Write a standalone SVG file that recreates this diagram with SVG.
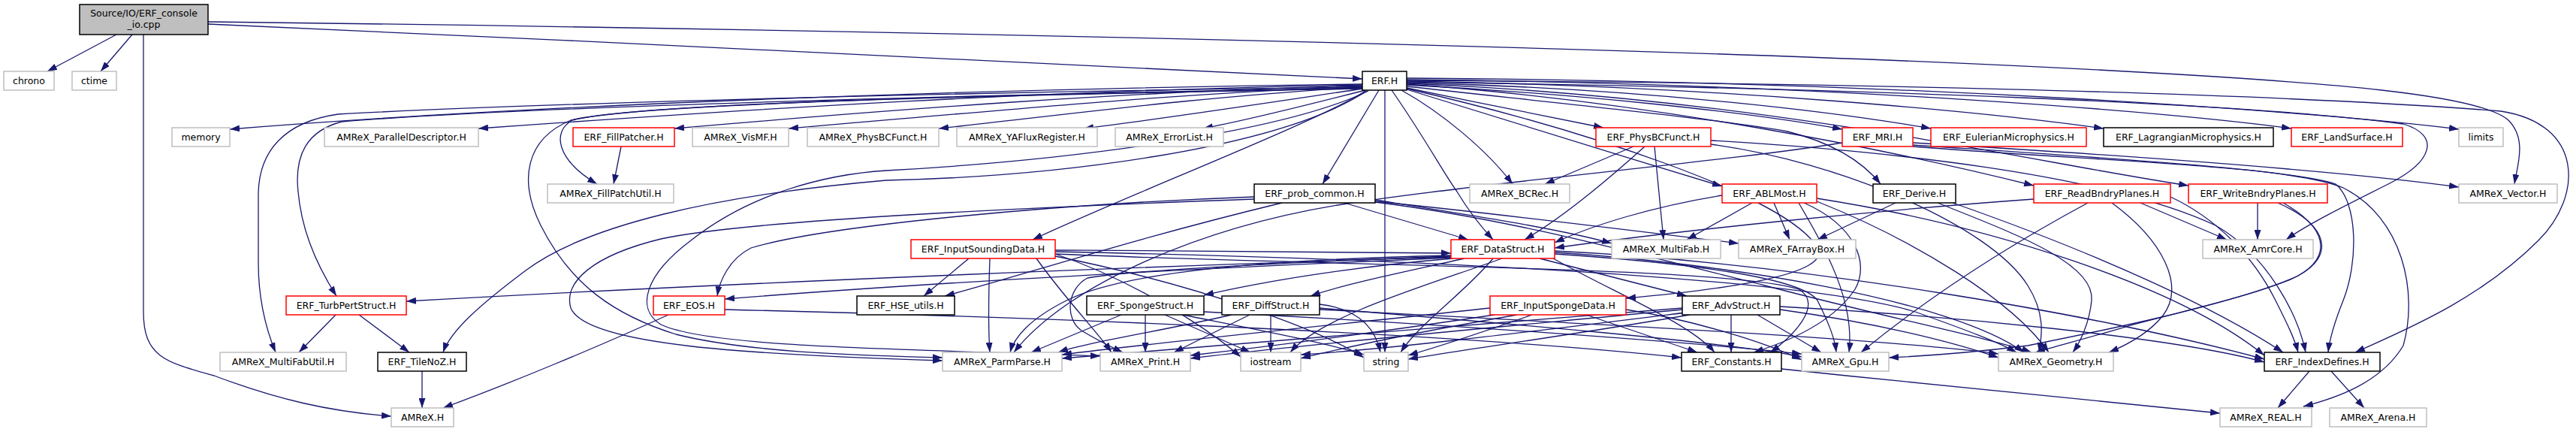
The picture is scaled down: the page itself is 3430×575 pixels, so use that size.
<svg xmlns="http://www.w3.org/2000/svg" width="3430" height="575" viewBox="0 0 3430 575">
<defs>
<marker id="ah" markerUnits="userSpaceOnUse" markerWidth="13" markerHeight="9" refX="13" refY="4.5" orient="auto"><path d="M0,0 L13,4.5 L0,9 z" fill="#191970"/></marker>
<style>
.node rect{fill:#fff;stroke-width:1.5}
.g rect{stroke:#bfbfbf}
.r rect{stroke:#ff0000}
.k rect{stroke:#000}
.s rect{fill:#bfbfbf;stroke:#000}
text{font-family:"DejaVu Sans","Liberation Sans",sans-serif;font-size:12.5px;text-anchor:middle;fill:#000}
#edges path{fill:none;stroke:#191970;stroke-width:1.3;marker-end:url(#ah)}
</style>
</defs>
<rect width="3430" height="575" fill="#fff"/>
<g id="edges">
<path d="M155,46 L63,95"/>
<path d="M176,46 L134,95"/>
<path d="M277,32 C800,55 1400,85 1814,105"/>
<path d="M191,46 L191,415 C191,475 220,482 285,500 C370,532 440,548 521,554"/>
<path d="M277,29 C1200,40 2300,65 2830,95 C3100,110 3300,125 3340,160 C3365,185 3352,220 3348,245"/>
<path d="M1814,112 C1300,118 700,140 306,172"/>
<path d="M1814,113 C1400,120 1000,145 637,171"/>
<path d="M1814,114 C1500,122 1200,145 898,171"/>
<path d="M1814,115 C1550,125 1300,150 1050,171"/>
<path d="M1814,116 C1600,128 1400,155 1250,171"/>
<path d="M1815,118 C1700,135 1550,158 1443,171"/>
<path d="M1818,120 C1740,140 1660,160 1602,171"/>
<path d="M1873,117 C1960,135 2060,155 2135,170"/>
<path d="M1873,113 C2100,125 2320,148 2453,172"/>
<path d="M1873,110 C2200,118 2450,150 2571,171"/>
<path d="M1873,108 C2300,115 2650,150 2801,171"/>
<path d="M1873,106 C2450,112 2900,150 3051,171"/>
<path d="M1873,104 C2550,108 3100,150 3274,172"/>
<path d="M1814,118 C1300,126 850,138 762,160 C735,175 740,212 795,245"/>
<path d="M1836,120 L1761,245"/>
<path d="M1866,120 C1920,150 1980,200 2014,245"/>
<path d="M1873,119 C1990,155 2150,205 2293,248"/>
<path d="M1873,115 C2100,140 2300,160 2380,175 C2440,190 2480,215 2504,245"/>
<path d="M1873,112 C2200,135 2520,200 2708,247"/>
<path d="M1873,111 C2350,130 2700,215 2914,247"/>
<path d="M1873,109 C2500,118 3000,138 3200,165 C3250,180 3240,215 3180,245 C3120,275 3070,300 3044,319"/>
<path d="M1873,107 C2400,110 3000,122 3330,148 C3440,165 3440,260 3380,320 C3300,400 3200,440 3136,469"/>
<path d="M1818,121 C1760,160 1500,260 1375,319"/>
<path d="M1853,120 C1895,180 1925,235 1940,255 C1958,285 1975,305 1988,319"/>
<path d="M1814,116 C1300,122 700,138 450,152 C380,162 344,200 344,260 L344,350 C344,400 355,440 367,469"/>
<path d="M1814,117 C1300,126 700,142 455,162 C405,175 396,210 396,240 C398,300 420,350 448,394"/>
<path d="M1844,120 L1844,469"/>
<path d="M1814,118 C1300,127 850,138 760,160 C700,185 690,240 720,300 C760,380 820,420 900,445 C1000,470 1150,473 1255,476"/>
<path d="M1822,121 C1700,180 1400,215 1180,227 C1100,232 1000,257 920,320 C860,365 845,410 880,432 C950,465 1250,465 1465,474"/>
<path d="M1820,121 C1700,200 1400,235 1180,240 C950,260 780,300 700,360 C640,405 600,440 590,469"/>
<path d="M1873,118 C2100,170 2380,260 2420,330 C2440,365 2300,385 2165,397"/>
<path d="M827,195 L817,245"/>
<path d="M2175,195 L2057,245"/>
<path d="M2190,195 C2140,240 2080,290 2030,319"/>
<path d="M2203,195 L2215,319"/>
<path d="M2278,187 C2500,200 2800,230 2950,300 C3020,340 3060,420 3070,469"/>
<path d="M2278,192 C2450,215 2650,300 2700,380 C2725,420 2718,450 2715,469"/>
<path d="M2453,190 C2300,215 2000,240 1800,270 C1600,300 1420,380 1350,469"/>
<path d="M2547,190 C2800,205 3100,225 3274,249"/>
<path d="M2547,193 C2800,210 3050,225 3110,245 C3140,270 3140,350 3120,400 C3108,430 3102,450 3100,469"/>
<path d="M2547,195 C2800,215 3050,220 3120,250 C3200,290 3220,390 3200,460 C3170,510 3110,530 3067,541"/>
<path d="M1790,270 L1955,319"/>
<path d="M1831,266 C1950,285 2080,305 2146,324"/>
<path d="M1831,268 C2000,285 2200,310 2315,324"/>
<path d="M1707,270 C1500,320 1350,370 1258,394"/>
<path d="M1670,262 C1400,272 1100,300 1000,330 C970,345 958,375 955,394"/>
<path d="M1670,265 C1400,275 1000,292 880,318 C790,340 750,375 760,410 C780,460 1000,472 1255,480"/>
<path d="M1831,269 C2000,290 2150,330 2350,380 C2500,420 2650,450 2705,469"/>
<path d="M2333,270 L2246,319"/>
<path d="M2362,270 L2383,319"/>
<path d="M2293,260 C2200,275 2120,300 2070,323"/>
<path d="M2419,268 C2550,320 2680,400 2728,469"/>
<path d="M2419,264 C2650,300 2900,380 3015,473"/>
<path d="M2402,270 C2470,300 2490,350 2470,385 C2440,430 2380,455 2335,469"/>
<path d="M2395,270 C2430,330 2470,400 2462,469"/>
<path d="M2524,270 L2420,319"/>
<path d="M2580,270 C2680,310 2790,350 2785,400 C2782,430 2770,455 2760,469"/>
<path d="M2600,270 C2800,340 2950,410 3040,469"/>
<path d="M2708,265 C2500,280 2250,305 2070,330"/>
<path d="M2780,270 C2650,340 2550,410 2478,469"/>
<path d="M2812,270 C2880,320 2910,380 2880,420 C2860,445 2830,460 2808,469"/>
<path d="M2850,270 L2965,319"/>
<path d="M2890,262 C2950,290 3000,340 3030,400 C3045,430 3055,450 3060,469"/>
<path d="M3006,270 L3006,319"/>
<path d="M3033,270 C3100,300 3110,340 3060,367 C3000,395 2900,415 2830,435 C2780,450 2740,460 2710,469"/>
<path d="M3040,270 C3110,310 3100,350 3050,372 C2950,410 2800,440 2700,460 C2620,470 2560,474 2515,476"/>
<path d="M1290,344 L1230,394"/>
<path d="M1405,333 C1600,333 1800,335 1932,337"/>
<path d="M1318,344 C1316,400 1316,440 1318,469"/>
<path d="M1380,344 C1420,400 1460,440 1480,469"/>
<path d="M1405,338 C1500,370 1600,430 1652,475"/>
<path d="M1405,341 C1600,380 1760,440 1816,476"/>
<path d="M1405,338 C1800,355 2300,355 2395,385 C2430,405 2385,450 2357,469"/>
<path d="M1405,335 C1900,345 2400,370 2550,415 C2620,440 2660,455 2685,469"/>
<path d="M1932,342 C1600,352 1000,375 541,401"/>
<path d="M1932,343 C1650,355 1250,375 965,398"/>
<path d="M1988,344 C1950,390 1890,430 1865,469"/>
<path d="M2050,344 L2246,394"/>
<path d="M1935,344 C1800,355 1680,375 1603,393"/>
<path d="M1950,344 C1880,360 1790,378 1745,394"/>
<path d="M1932,340 C1700,345 1500,360 1420,400 C1370,425 1350,450 1345,469"/>
<path d="M1932,341 C1700,350 1500,360 1448,370 C1420,385 1418,425 1440,440 C1460,452 1480,462 1495,469"/>
<path d="M2000,344 C1900,380 1760,420 1718,469"/>
<path d="M2068,344 C2150,390 2250,430 2283,469"/>
<path d="M2070,338 C2250,350 2400,370 2420,400 C2435,430 2443,450 2445,469"/>
<path d="M2070,336 C2300,350 2600,400 2695,469"/>
<path d="M2070,334 C2400,350 2800,420 3015,478"/>
<path d="M447,419 L398,469"/>
<path d="M478,419 L545,469"/>
<path d="M562,494 L562,543"/>
<path d="M890,419 C800,460 680,510 590,543"/>
<path d="M965,412 C1300,420 1900,440 2239,476"/>
<path d="M1493,419 L1373,469"/>
<path d="M1525,419 L1525,469"/>
<path d="M1551,419 L1665,469"/>
<path d="M1575,419 C1680,440 1760,455 1816,472"/>
<path d="M1603,415 C1900,430 2250,455 2399,471"/>
<path d="M1640,419 C1550,440 1450,455 1409,469"/>
<path d="M1664,419 L1563,469"/>
<path d="M1692,419 L1692,469"/>
<path d="M1757,405 C1800,410 1830,430 1838,469"/>
<path d="M1757,410 C2000,430 2300,455 2399,475"/>
<path d="M1757,412 C2100,430 2500,450 2661,471"/>
<path d="M1984,410 C1800,430 1550,455 1414,472"/>
<path d="M1990,419 C1850,440 1700,460 1585,473"/>
<path d="M2020,419 C1900,440 1800,460 1732,477"/>
<path d="M2040,419 C1980,440 1920,460 1875,473"/>
<path d="M2112,419 L2260,469"/>
<path d="M2165,412 C2250,425 2350,455 2399,479"/>
<path d="M2240,410 C2000,430 1600,460 1414,477"/>
<path d="M2240,412 C2000,435 1700,462 1585,477"/>
<path d="M2245,416 C2050,440 1850,465 1732,472"/>
<path d="M2250,419 C2100,445 1950,465 1875,478"/>
<path d="M2305,419 L2305,469"/>
<path d="M2340,419 L2425,469"/>
<path d="M2370,412 C2500,430 2600,455 2661,476"/>
<path d="M2370,408 C2600,420 2900,450 3015,482"/>
<path d="M2372,491 C2600,515 2850,540 2956,550"/>
<path d="M3075,494 L3033,543"/>
<path d="M3104,494 L3148,543"/>
</g>
<g id="n_src" class="node s"><rect x="106" y="6" width="171" height="40"/><text x="191.5" y="22">Source/IO/ERF_console</text><text x="191.5" y="37">_io.cpp</text></g>
<g id="n_chrono" class="node g"><rect x="5" y="95" width="67" height="25"/><text x="38.5" y="112">chrono</text></g>
<g id="n_ctime" class="node g"><rect x="96" y="95" width="59" height="25"/><text x="125.5" y="112">ctime</text></g>
<g id="n_erf" class="node k"><rect x="1814" y="95" width="59" height="25"/><text x="1843.5" y="112">ERF.H</text></g>
<g id="n_memory" class="node g"><rect x="229" y="170" width="77" height="25"/><text x="267.5" y="187">memory</text></g>
<g id="n_pardesc" class="node g"><rect x="432" y="170" width="205" height="25"/><text x="534.5" y="187">AMReX_ParallelDescriptor.H</text></g>
<g id="n_fillpatcher" class="node r"><rect x="763" y="170" width="135" height="25"/><text x="830.5" y="187">ERF_FillPatcher.H</text></g>
<g id="n_vismf" class="node g"><rect x="922" y="170" width="128" height="25"/><text x="986" y="187">AMReX_VisMF.H</text></g>
<g id="n_amrexphysbc" class="node g"><rect x="1075" y="170" width="175" height="25"/><text x="1162.5" y="187">AMReX_PhysBCFunct.H</text></g>
<g id="n_yaflux" class="node g"><rect x="1274" y="170" width="187" height="25"/><text x="1367.5" y="187">AMReX_YAFluxRegister.H</text></g>
<g id="n_errorlist" class="node g"><rect x="1485" y="170" width="144" height="25"/><text x="1557" y="187">AMReX_ErrorList.H</text></g>
<g id="n_erfphysbc" class="node r"><rect x="2125" y="170" width="153" height="25"/><text x="2201.5" y="187">ERF_PhysBCFunct.H</text></g>
<g id="n_mri" class="node r"><rect x="2453" y="170" width="94" height="25"/><text x="2500" y="187">ERF_MRI.H</text></g>
<g id="n_euler" class="node r"><rect x="2571" y="170" width="207" height="25"/><text x="2674.5" y="187">ERF_EulerianMicrophysics.H</text></g>
<g id="n_lagr" class="node k"><rect x="2801" y="170" width="226" height="25"/><text x="2914" y="187">ERF_LagrangianMicrophysics.H</text></g>
<g id="n_land" class="node r"><rect x="3051" y="170" width="148" height="25"/><text x="3125" y="187">ERF_LandSurface.H</text></g>
<g id="n_limits" class="node g"><rect x="3274" y="170" width="59" height="25"/><text x="3303.5" y="187">limits</text></g>
<g id="n_fpu" class="node g"><rect x="729" y="245" width="168" height="25"/><text x="813" y="262">AMReX_FillPatchUtil.H</text></g>
<g id="n_probc" class="node k"><rect x="1670" y="245" width="161" height="25"/><text x="1750.5" y="262">ERF_prob_common.H</text></g>
<g id="n_bcrec" class="node g"><rect x="1957" y="245" width="133" height="25"/><text x="2023.5" y="262">AMReX_BCRec.H</text></g>
<g id="n_abl" class="node r"><rect x="2293" y="245" width="126" height="25"/><text x="2356" y="262">ERF_ABLMost.H</text></g>
<g id="n_derive" class="node k"><rect x="2494" y="245" width="110" height="25"/><text x="2549" y="262">ERF_Derive.H</text></g>
<g id="n_readbp" class="node r"><rect x="2708" y="245" width="182" height="25"/><text x="2799" y="262">ERF_ReadBndryPlanes.H</text></g>
<g id="n_writebp" class="node r"><rect x="2914" y="245" width="185" height="25"/><text x="3006.5" y="262">ERF_WriteBndryPlanes.H</text></g>
<g id="n_vector" class="node g"><rect x="3274" y="245" width="131" height="25"/><text x="3339.5" y="262">AMReX_Vector.H</text></g>
<g id="n_isd" class="node r"><rect x="1213" y="319" width="192" height="25"/><text x="1309" y="336">ERF_InputSoundingData.H</text></g>
<g id="n_ds" class="node r"><rect x="1932" y="319" width="138" height="25"/><text x="2001" y="336">ERF_DataStruct.H</text></g>
<g id="n_mf" class="node g"><rect x="2146" y="319" width="145" height="25"/><text x="2218.5" y="336">AMReX_MultiFab.H</text></g>
<g id="n_fab" class="node g"><rect x="2315" y="319" width="156" height="25"/><text x="2393" y="336">AMReX_FArrayBox.H</text></g>
<g id="n_amrcore" class="node g"><rect x="2933" y="319" width="147" height="25"/><text x="3006.5" y="336">AMReX_AmrCore.H</text></g>
<g id="n_tps" class="node r"><rect x="381" y="394" width="160" height="25"/><text x="461" y="411">ERF_TurbPertStruct.H</text></g>
<g id="n_eos" class="node r"><rect x="870" y="394" width="95" height="25"/><text x="917.5" y="411">ERF_EOS.H</text></g>
<g id="n_hse" class="node k"><rect x="1141" y="394" width="130" height="25"/><text x="1206" y="411">ERF_HSE_utils.H</text></g>
<g id="n_sponge" class="node k"><rect x="1447" y="394" width="156" height="25"/><text x="1525" y="411">ERF_SpongeStruct.H</text></g>
<g id="n_diff" class="node k"><rect x="1627" y="394" width="130" height="25"/><text x="1692" y="411">ERF_DiffStruct.H</text></g>
<g id="n_isp" class="node r"><rect x="1984" y="394" width="181" height="25"/><text x="2074.5" y="411">ERF_InputSpongeData.H</text></g>
<g id="n_adv" class="node k"><rect x="2240" y="394" width="130" height="25"/><text x="2305" y="411">ERF_AdvStruct.H</text></g>
<g id="n_mfu" class="node g"><rect x="293" y="469" width="168" height="25"/><text x="377" y="486">AMReX_MultiFabUtil.H</text></g>
<g id="n_tilenoz" class="node k"><rect x="503" y="469" width="118" height="25"/><text x="562" y="486">ERF_TileNoZ.H</text></g>
<g id="n_pp" class="node g"><rect x="1255" y="469" width="159" height="25"/><text x="1334.5" y="486">AMReX_ParmParse.H</text></g>
<g id="n_print" class="node g"><rect x="1465" y="469" width="120" height="25"/><text x="1525" y="486">AMReX_Print.H</text></g>
<g id="n_iostream" class="node g"><rect x="1652" y="469" width="80" height="25"/><text x="1692" y="486">iostream</text></g>
<g id="n_string" class="node g"><rect x="1816" y="469" width="59" height="25"/><text x="1845.5" y="486">string</text></g>
<g id="n_const" class="node k"><rect x="2239" y="469" width="133" height="25"/><text x="2305.5" y="486">ERF_Constants.H</text></g>
<g id="n_gpu" class="node g"><rect x="2399" y="469" width="116" height="25"/><text x="2457" y="486">AMReX_Gpu.H</text></g>
<g id="n_geom" class="node g"><rect x="2661" y="469" width="153" height="25"/><text x="2737.5" y="486">AMReX_Geometry.H</text></g>
<g id="n_idx" class="node k"><rect x="3015" y="469" width="154" height="25"/><text x="3092" y="486">ERF_IndexDefines.H</text></g>
<g id="n_amrex" class="node g"><rect x="521" y="543" width="83" height="25"/><text x="562.5" y="560">AMReX.H</text></g>
<g id="n_real" class="node g"><rect x="2956" y="543" width="122" height="25"/><text x="3017" y="560">AMReX_REAL.H</text></g>
<g id="n_arena" class="node g"><rect x="3102" y="543" width="129" height="25"/><text x="3166.5" y="560">AMReX_Arena.H</text></g>
</svg>
